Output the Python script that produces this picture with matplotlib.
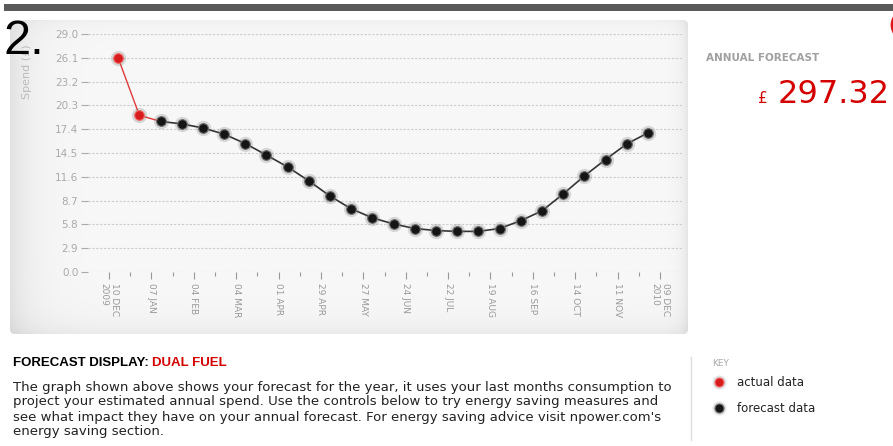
import numpy as np
import matplotlib
matplotlib.use("Agg")
import matplotlib.pyplot as plt
import matplotlib.dates as mdates
from matplotlib.patches import FancyBboxPatch, Rectangle, Circle
from datetime import datetime

plt.rcParams['font.family'] = ['DejaVu Sans']

# ---- data ----
point_dates = ["2009-12-16", "2009-12-30", "2010-01-13", "2010-01-27", "2010-02-10",
               "2010-02-24", "2010-03-10", "2010-03-24", "2010-04-07", "2010-04-21",
               "2010-05-05", "2010-05-19", "2010-06-02", "2010-06-16", "2010-06-30",
               "2010-07-14", "2010-07-28", "2010-08-11", "2010-08-25", "2010-09-08",
               "2010-09-22", "2010-10-06", "2010-10-20", "2010-11-03", "2010-11-17",
               "2010-12-01"]
spend = [26.1, 19.1, 18.35, 18.05, 17.55, 16.8, 15.65, 14.25, 12.8, 11.1,
         9.25, 7.7, 6.6, 5.85, 5.3, 5.05, 4.95, 4.95, 5.3, 6.25,
         7.45, 9.5, 11.7, 13.7, 15.6, 16.95]
n_actual = 2

tick_dates = ["2009-12-10", "2010-01-07", "2010-02-04", "2010-03-04", "2010-04-01",
              "2010-04-29", "2010-05-27", "2010-06-24", "2010-07-22", "2010-08-19",
              "2010-09-16", "2010-10-14", "2010-11-11", "2010-12-09"]
tick_labels = ["10 DEC\n2009", "07 JAN", "04 FEB", "04 MAR", "01 APR", "29 APR",
               "27 MAY", "24 JUN", "22 JUL", "19 AUG", "16 SEP", "14 OCT",
               "11 NOV", "09 DEC\n2010"]
y_ticks = [0.0, 2.9, 5.8, 8.7, 11.6, 14.5, 17.4, 20.3, 23.2, 26.1, 29.0]

annual_forecast = "297.32"

paragraph = ["The graph shown above shows your forecast for the year, it uses your last months consumption to",
             "project your estimated annual spend. Use the controls below to try energy saving measures and",
             "see what impact they have on your annual forecast. For energy saving advice visit npower.com's",
             "energy saving section."]

x = mdates.date2num([datetime.strptime(d, "%Y-%m-%d") for d in point_dates])
xt = mdates.date2num([datetime.strptime(d, "%Y-%m-%d") for d in tick_dates])
xminor = xt[:-1] + 14

W, H = 893, 446
fig = plt.figure(figsize=(W / 100, H / 100), dpi=100)
fig.patch.set_facecolor('white')

# background layer in pixel coordinates
bg = fig.add_axes([0, 0, 1, 1])
bg.set_xlim(0, W)
bg.set_ylim(H, 0)
bg.axis('off')

bg.add_patch(Rectangle((4, 4), W - 4, 7, color='#5a5a5a', lw=0))
bg.add_patch(Circle((907, 25), 15, fill=False, ec='#e01818', lw=2, clip_on=True))

# grey panel with soft shading at the edges
px0, px1, py0, py1 = 10, 688, 20, 334
gh, gw = py1 - py0, px1 - px0
yy, xx = np.mgrid[0:gh, 0:gw]
shade = (0.972 - 0.085 * np.exp(-xx / 22.0) - 0.07 * np.exp(-(gw - 1 - xx) / 7.0)
         - 0.05 * np.exp(-(gh - 1 - yy) / 14.0) - 0.03 * np.exp(-yy / 8.0))
img = np.dstack([shade, shade, shade])
im = bg.imshow(img, extent=(px0, px1, py1, py0), aspect='auto', interpolation='bilinear', zorder=1)
clip = FancyBboxPatch((px0, py0), gw, gh, boxstyle="round,pad=0,rounding_size=5",
                      transform=bg.transData, fc='none', ec='none')
bg.add_patch(clip)
im.set_clip_path(clip)

# big "2." label and y label (the "2." sits over the label, as in the page)
bg.text(27, 72, "Spend (£)", rotation=90, fontsize=8, color='#bbbbbb', ha='center', va='center', zorder=3)
bg.text(4, 41, "2.", fontsize=35, family='Liberation Sans', color='black', va='center', ha='left', zorder=5)

# annual forecast box
bg.text(706, 58, "ANNUAL FORECAST", fontsize=7.5, fontweight='bold', color='#a0a0a0', va='center', ha='left')
bg.text(758, 103, "£", fontsize=11, color='#d40000', va='baseline', ha='left')
bg.text(890, 103, annual_forecast, fontsize=23, color='#d40000', va='baseline', ha='right')

# description text
t1 = bg.text(13, 363, "FORECAST DISPLAY: ", fontsize=9.5, fontweight='bold', family='Liberation Sans',
             color='black', va='center', ha='left')
bg.annotate("DUAL FUEL", xy=(1, 0), xycoords=t1, va='bottom', ha='left', fontsize=9.5,
            fontweight='bold', family='Liberation Sans', color='#d40000')
for i, line in enumerate(paragraph):
    bg.text(13, 387 + 15 * i, line, fontsize=9.5, color='#222222', va='center', ha='left')

# key
bg.plot([691, 691], [357, 440], color='#dddddd', lw=1)
bg.text(712, 363, "KEY", fontsize=6.5, color='#aaaaaa', va='center', ha='left')
for yk, fc, ec, lab in [(382, '#d81c1c', '#f07070', "actual data"), (408, '#151515', '#707070', "forecast data")]:
    bg.plot([719], [yk], 'o', ms=10, color='#888888', alpha=0.25, mew=0)
    bg.plot([719], [yk], 'o', ms=6.5, mfc=fc, mec=ec, mew=0.8)
    bg.text(737, yk, lab, fontsize=8.5, color='#222222', va='center', ha='left')

# ---- chart ----
ax = fig.add_axes([88 / W, (H - 272) / H, (683 - 88) / W, (272 - 34) / H])
ax.patch.set_alpha(0)
for s in ax.spines.values():
    s.set_visible(False)

ax.set_ylim(0, 29)
ax.set_xlim(xt[0] - 13.9, xt[0] + 379.2)

ax.set_yticks(y_ticks)
ax.set_yticklabels([f"{v:.1f}" for v in y_ticks])
ax.yaxis.grid(True, ls=(0, (2, 1.5)), color='#cccccc', lw=0.8)
ax.set_axisbelow(True)
ax.tick_params(axis='y', length=5, width=0.8, color='#aaaaaa', labelcolor='#aaaaaa', labelsize=7.5, pad=2)

ax.set_xticks(xt)
ax.set_xticklabels(tick_labels, rotation=270, ha='center', va='top', multialignment='left')
ax.set_xticks(xminor, minor=True)
ax.tick_params(axis='x', which='major', length=5, width=0.8, color='#999999', labelcolor='#999999',
               labelsize=6.5, pad=3)
ax.tick_params(axis='x', which='minor', length=3, width=0.8, color='#999999')

# lines
ax.plot(x[:n_actual + 1], spend[:n_actual + 1], color='#e03a3a', lw=1, zorder=3)
ax.plot(x[n_actual:], spend[n_actual:], color='#333333', lw=1.2, zorder=3)

# glow + markers
ax.plot(x, spend, 'o', ms=11, color='#777777', alpha=0.25, mew=0, zorder=4, clip_on=False)
ax.plot(x[:n_actual], spend[:n_actual], 'o', ms=7, mfc='#d81c1c', mec='#f07070', mew=0.8,
        zorder=5, clip_on=False)
ax.plot(x[n_actual:], spend[n_actual:], 'o', ms=7, mfc='#151515', mec='#707070', mew=0.8,
        zorder=5, clip_on=False)

fig.savefig("out.png", dpi=100)
